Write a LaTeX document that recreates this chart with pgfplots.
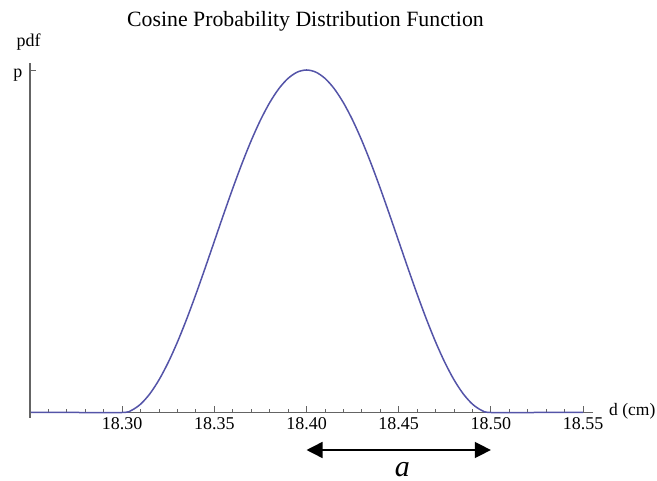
\documentclass[border=0pt]{standalone}
\usepackage{fontspec}
\setmainfont{Liberation Serif}
\usepackage{pgfplots}
\pgfplotsset{compat=1.18}
\usetikzlibrary{arrows.meta}

\definecolor{curveblue}{RGB}{84,84,168}
\definecolor{axisgray}{RGB}{100,100,100}

\begin{document}
\begin{tikzpicture}
  \begin{axis}[
      name=ax,
      scale only axis,
      width=563pt, height=349.5pt,
      xmin=18.25, xmax=18.5554,
      ymin=0, ymax=1.0204,
      axis lines=left,
      axis line style={-, draw=axisgray, line width=1.1pt},
      clip=false,
      xtick={18.30,18.35,18.40,18.45,18.50,18.55},
      xticklabels={18.30,18.35,18.40,18.45,18.50,18.55},
      minor xtick={18.26,18.27,18.28,18.29,18.31,18.32,18.33,18.34,18.36,18.37,18.38,18.39,
                   18.41,18.42,18.43,18.44,18.46,18.47,18.48,18.49,18.51,18.52,18.53,18.54},
      ytick={1}, yticklabels={p},
      tick align=inside,
      major tick length=6pt, minor tick length=3.3pt,
      tick style={draw=axisgray, line width=0.9pt},
      ticklabel style={font=\fontsize{18}{20}\selectfont, text=black},
      xticklabel style={yshift=-2pt},
      yticklabel style={xshift=-4pt, yshift=-5pt},
      title={Cosine Probability Distribution Function},
      every axis title/.style={at={(axis description cs:0.5,1)}, anchor=base,
        yshift=36pt, xshift=-6pt, font=\fontsize{21.8}{24}\selectfont},
      xlabel={d (cm)},
      every axis x label/.style={at={(axis description cs:1,0)}, anchor=base west,
        inner sep=0pt, xshift=16pt, yshift=-3.5pt, font=\fontsize{17.5}{20}\selectfont},
      ylabel={pdf},
      every axis y label/.style={at={(axis description cs:0,1)}, anchor=base,
        yshift=16.5pt, xshift=-1.5pt, font=\fontsize{18}{20}\selectfont},
    ]
    \addplot[curveblue, line width=1.5pt, smooth] coordinates {
      (18.250,0) (18.275,0) (18.300,0)
      (18.305,0.006156) (18.310,0.024472) (18.315,0.054497) (18.320,0.095492)
      (18.325,0.146447) (18.330,0.206107) (18.335,0.273005) (18.340,0.345492)
      (18.345,0.421783) (18.350,0.5) (18.355,0.578217) (18.360,0.654508)
      (18.365,0.726995) (18.370,0.793893) (18.375,0.853553) (18.380,0.904508)
      (18.385,0.945503) (18.390,0.975528) (18.395,0.993844) (18.400,1)
      (18.405,0.993844) (18.410,0.975528) (18.415,0.945503) (18.420,0.904508)
      (18.425,0.853553) (18.430,0.793893) (18.435,0.726995) (18.440,0.654508)
      (18.445,0.578217) (18.450,0.5) (18.455,0.421783) (18.460,0.345492)
      (18.465,0.273005) (18.470,0.206107) (18.475,0.146447) (18.480,0.095492)
      (18.485,0.054497) (18.490,0.024472) (18.495,0.006156) (18.500,0)
      (18.525,0) (18.550,0)
    };
    % small stub of the y axis below the x axis
    \draw[axisgray, line width=1.1pt] (axis cs:18.25,0) -- ([yshift=-6pt]axis cs:18.25,0);
    % interval arrow
    \draw[line width=1.5pt, {Triangle[length=16pt,width=16pt]}-{Triangle[length=16pt,width=16pt]}]
      (axis cs:18.40,-0.1095) -- (axis cs:18.50,-0.1095);
    \node[anchor=base, inner sep=0pt, font=\itshape\fontsize{30}{34}\selectfont] at (axis cs:18.452,-0.1855) {a};
  \end{axis}
  \pgfresetboundingbox
  \path[use as bounding box] ([shift={(-30pt,-68.5pt)}]ax.south west)
    rectangle ([shift={(64pt,63pt)}]ax.north east);
\end{tikzpicture}
\end{document}
